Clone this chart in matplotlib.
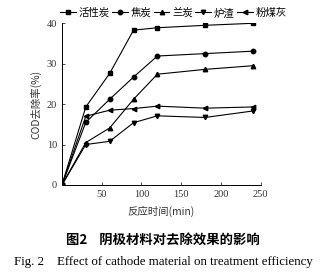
import matplotlib
matplotlib.use('Agg')
import matplotlib.pyplot as plt

plt.rcParams['font.family'] = ['Noto Sans CJK SC', 'DejaVu Sans']

# reaction time (min)
t = [0, 30, 60, 90, 120, 180, 240]
# COD removal (%) per cathode material
act_carbon = [0, 19.3, 27.6, 38.3, 38.9, 39.5, 40.0]
coke = [0, 15.5, 21.2, 26.7, 31.9, 32.5, 33.1]
lan_coke = [0, 10.5, 14.1, 21.2, 27.4, 28.6, 29.5]
slag = [0, 10.0, 10.8, 15.4, 17.1, 16.7, 18.3]
fly_ash = [0, 17.0, 18.5, 18.9, 19.5, 19.0, 19.3]

names = ['活性炭', '焦炭', '兰炭', '炉渣', '粉煤灰']
markers = ['s', 'o', '^', 'v', '<']
series = [act_carbon, coke, lan_coke, slag, fly_ash]

fig = plt.figure(figsize=(3.26, 2.74), dpi=100)
ax = fig.add_axes([0.19, 0.325, 0.61, 0.59])

for y, m, n in zip(series, markers, names):
    ax.plot(t, y, color='black', lw=0.8, marker=m, ms=3.2, label=n)

ax.set_xlim(0, 250)
ax.set_ylim(0, 40)
ax.set_xticks([50, 100, 150, 200, 250])
ax.set_yticks([0, 10, 20, 30, 40])
ax.spines['top'].set_visible(False)
ax.spines['right'].set_visible(False)
for s in ['left', 'bottom']:
    ax.spines[s].set_linewidth(0.7)
ax.tick_params(direction='in', length=2.5, width=0.6, labelsize=7.5, colors='#333333')
for lab in ax.get_xticklabels() + ax.get_yticklabels():
    lab.set_family(['Liberation Serif', 'DejaVu Serif'])
ax.set_ylabel('COD去除率(%)', fontsize=7.5, labelpad=4, color='#333333')
ax.set_xlabel('反应时间(min)', fontsize=7.5, labelpad=5, color='#333333')

ax.legend(loc='lower center', bbox_to_anchor=(0.56, 1.0), ncol=5, frameon=False,
          fontsize=7.5, handlelength=1.5, handletextpad=0.25, columnspacing=0.25,
          borderaxespad=0.1)

fig.text(0.5, 0.125, '图2    阴极材料对去除效果的影响', ha='center', va='center',
         fontsize=9.6, fontweight='bold')
fig.text(0.5, 0.045, 'Fig. 2    Effect of cathode material on treatment efficiency',
         ha='center', va='center', fontsize=9.3, family=['Liberation Serif'])

fig.savefig('out.png', dpi=100)
